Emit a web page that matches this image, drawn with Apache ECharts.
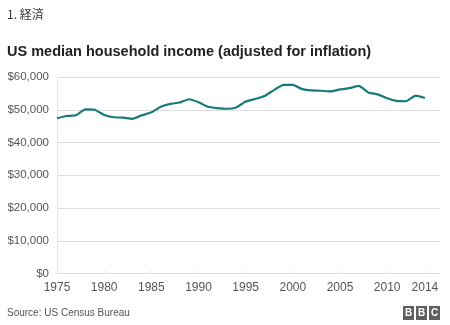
<!DOCTYPE html>
<html>
<head>
<meta charset="utf-8">
<script src="https://cdn.jsdelivr.net/npm/echarts@6/dist/echarts.min.js"></script>
<style>html,body{margin:0;padding:0;background:#fff;}#c{width:450px;height:325px;}</style>
</head>
<body>
<div id="c"></div>
<script>
const years = [1975,1976,1977,1978,1979,1980,1981,1982,1983,1984,1985,1986,1987,1988,1989,1990,1991,1992,1993,1994,1995,1996,1997,1998,1999,2000,2001,2002,2003,2004,2005,2006,2007,2008,2009,2010,2011,2012,2013,2014];
const income = [47400,48100,48300,50100,50000,48400,47700,47600,47200,48300,49200,50900,51800,52200,53200,52300,50900,50500,50300,50700,52500,53300,54200,56000,57600,57600,56300,55900,55800,55600,56200,56600,57300,55300,54700,53500,52700,52600,54300,53600];
const xTickYears = [1975,1980,1985,1990,1995,2000,2005,2010,2014];
const yTicks = [0,10000,20000,30000,40000,50000,60000];

const chart = echarts.init(document.getElementById('c'));
const font = '"Liberation Sans", Arial, sans-serif';
chart.setOption({
  animation: false,
  textStyle: { fontFamily: font },
  title: {
    text: 'US median household income (adjusted for inflation)',
    left: 2, top: 39,
    textStyle: { fontFamily: font, fontSize: 14.5, fontWeight: 'bold', color: '#222' }
  },
  grid: { left: 57, right: 10, top: 77, bottom: 51.5, containLabel: false },
  xAxis: {
    type: 'value',
    min: 1975,
    max: 2015.6,
    axisLine: { show: true, lineStyle: { color: '#ddd' } },
    axisTick: { show: true, inside: true, length: 3, lineStyle: { color: '#e6e6e6' }, customValues: xTickYears },
    splitLine: { show: false },
    axisLabel: {
      customValues: xTickYears,
      color: '#555', fontSize: 12, fontFamily: font, margin: 8,
      formatter: v => String(v)
    }
  },
  yAxis: {
    type: 'value',
    min: 0, max: 60000, interval: 10000,
    axisLine: { show: true, lineStyle: { color: '#e6e6e6' } },
    axisTick: { show: false },
    splitLine: { lineStyle: { color: '#ddd' } },
    axisLabel: {
      color: '#555', fontSize: 11.5, fontFamily: font, margin: 8,
      formatter: v => '$' + v.toLocaleString('en-US')
    }
  },
  series: [{
    type: 'line',
    data: years.map((y, i) => [y, income[i]]),
    showSymbol: false,
    smooth: 0.15,
    lineStyle: { color: '#167a7b', width: 2.2 },
    itemStyle: { color: '#167a7b' }
  }],
  graphic: [
    { type: 'text', left: 7, top: 8, style: { text: '1. 経済', font: '12px "Noto Sans CJK JP", "Liberation Sans", sans-serif', fill: '#333' } },
    { type: 'text', left: 7, top: 308, style: { text: 'Source: US Census Bureau', font: '10px "Liberation Sans", Arial, sans-serif', fill: '#555' } },
    { type: 'rect', shape: { x: 403, y: 306, width: 11, height: 14 }, style: { fill: '#5f5f5f' } },
    { type: 'rect', shape: { x: 416, y: 306, width: 11, height: 14 }, style: { fill: '#5f5f5f' } },
    { type: 'rect', shape: { x: 429, y: 306, width: 11, height: 14 }, style: { fill: '#5f5f5f' } },
    { type: 'text', x: 408.5, y: 313, style: { text: 'B', font: 'bold 10px "Liberation Sans", Arial, sans-serif', fill: '#fff', align: 'center', verticalAlign: 'middle' } },
    { type: 'text', x: 421.5, y: 313, style: { text: 'B', font: 'bold 10px "Liberation Sans", Arial, sans-serif', fill: '#fff', align: 'center', verticalAlign: 'middle' } },
    { type: 'text', x: 434.5, y: 313, style: { text: 'C', font: 'bold 10px "Liberation Sans", Arial, sans-serif', fill: '#fff', align: 'center', verticalAlign: 'middle' } }
  ]
});
</script>
</body>
</html>
